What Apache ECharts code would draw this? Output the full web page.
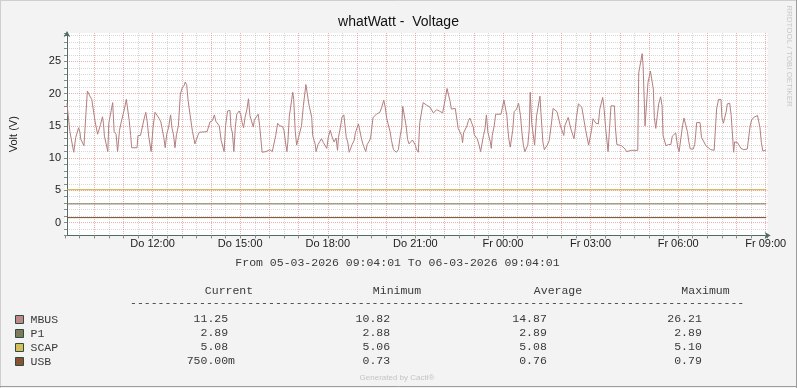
<!DOCTYPE html>
<html>
<head>
<meta charset="utf-8">
<script src="https://cdn.jsdelivr.net/npm/echarts@6/dist/echarts.min.js"></script>
<style>html,body{margin:0;padding:0;background:#f3f3f3;}#c{width:797px;height:388px;}</style>
</head>
<body>
<div id="c"></div>
<script>
// ---- data (minutes after Do 09:00) ----
const mbusTime = [4,7,10,14,18,22,26,28,31,32,36,39,43,46,49,52,55,59,62,65,67,71,73,77,79,81,84,88,90,94,98,101,105,108,112,115,118,122,126,129,132,135,137,148,150,155,159,162,166,169,172,177,181,185,189,193,197,200,203,206,209,213,217,220,223,226,229,233,237,241,245,247,250,253,257,259,262,265,267,270,273,276,292,294,298,303,307,310,313,317,319,321,324,327,330,334,339,341,344,347,350,353,358,361,364,367,370,374,377,380,384,387,389,393,397,400,402,405,413,417,421,426,430,433,437,441,447,450,453,456,458,461,465,468,470,473,476,480,483,486,490,493,495,499,501,504,507,509,512,514,516,519,520,524,527,531,534,538,541,545,547,550,553,557,560,562,566,569,573,575,578,581,584,587,590,594,597,600,603,606,609,612,615,618,621,625,628,631,633,637,640,644,647,651,655,658,661,664,668,671,675,678,681,685,689,692,694,698,701,704,707,710,714,718,720,722,726,728,729,733,736,739,743,746,750,752,757,761,764,769,772,776,779,782,785,788,791,794,798,802,806,808,811,815,817,819,822,826,829,832,836,839,841,844,847,851,854,858,860,863,866,869,871,874,876,878,882,885,896,899,902,906,908,910,912,915,918,920,923,928,932,934,936,939,942,945,948,951,954,956,958,959,963,965,967,969,973,976,978,980,982,985,988,991,995,997,1000,1003,1007,1011,1015,1018,1022,1025,1027,1031,1034,1037,1040,1043,1046,1049,1051,1055,1058,1062,1066,1070,1073,1076,1079,1082,1085,1088,1091,1096,1099,1103,1105,1108,1111,1114,1116,1119,1122,1125,1129,1131,1134,1138,1144,1147,1151,1154,1157,1164,1171,1177,1179,1183,1186,1188,1192,1196,1198,1201,1203,1207,1209,1211,1214,1218,1220,1224,1227,1229,1233,1235,1240,1245,1248,1252,1255,1259,1262,1265,1269,1272,1276,1279,1282,1285,1288,1291,1294,1296,1298,1305,1308,1311,1313,1317,1320,1327,1334,1337,1339,1343,1348,1350,1353,1356,1359,1361,1366,1369,1374,1375,1376,1379,1382,1386,1389,1392,1395,1402,1408,1411,1415,1418,1423,1427,1428,1431,1434,1436,1440];
const mbusVolt = [18.5,18.4,14.1,14.0,10.9,13.2,13.4,14.7,13.9,13.0,12.9,11.9,16.9,20.4,20.5,19.5,19.1,18.9,15.6,15.4,13.7,13.7,15.2,16.4,15.4,13.4,13.2,11.0,15.4,15.6,18.6,14.1,13.7,11.0,14.3,15.4,15.5,17.6,19.1,19.0,15.8,13.5,11.6,11.6,13.5,13.5,14.8,15.9,17.1,15.6,13.4,11.0,14.8,17.1,17.0,16.2,15.6,15.5,13.2,11.6,13.7,14.8,16.7,14.6,13.6,11.6,13.6,15.0,19.9,20.9,21.3,21.8,21.4,18.9,16.7,16.5,14.1,13.9,12.2,12.2,13.5,14.0,14.1,14.3,15.6,15.8,16.7,15.7,15.5,15.0,13.9,12.7,12.6,11.0,15.0,17.3,17.4,14.8,13.9,11.0,14.8,16.8,17.3,16.8,15.5,14.7,16.3,17.6,19.2,16.6,16.3,14.8,15.9,16.2,16.8,15.0,13.4,10.9,11.0,11.3,11.3,11.0,10.9,13.5,15.4,15.0,14.9,14.3,12.5,11.0,12.5,16.5,16.6,20.2,19.1,14.3,12.0,13.2,13.5,15.0,18.2,18.1,21.4,21.4,18.4,18.1,16.3,13.5,12.7,12.2,11.0,11.0,12.1,12.2,13.0,12.4,12.5,11.5,13.2,14.3,14.3,13.0,12.5,13.1,11.2,13.2,14.8,16.3,16.7,16.8,13.2,12.5,10.9,11.0,12.1,12.7,14.0,14.3,15.3,15.3,13.1,12.2,12.2,11.0,12.1,12.6,13.1,15.0,16.3,16.6,16.8,16.9,17.1,17.9,19.0,17.9,16.2,15.3,14.1,12.7,11.3,11.0,10.9,11.3,13.5,14.8,18.0,18.0,15.0,12.9,12.2,12.5,12.8,12.7,12.0,11.4,10.9,11.0,15.5,15.6,18.6,18.4,18.2,18.1,17.9,17.6,17.0,17.3,17.5,17.3,17.1,17.0,17.2,19.4,20.8,20.8,18.9,17.6,17.7,17.7,17.9,14.6,14.6,13.5,12.4,13.9,13.9,15.0,15.8,16.2,16.2,14.8,13.6,13.5,13.0,12.0,11.0,11.0,13.5,14.5,16.7,14.0,13.7,12.5,11.5,13.5,15.0,16.8,16.8,17.9,19.0,19.0,16.6,14.5,13.0,11.7,11.7,14.3,17.2,17.6,18.5,18.7,16.6,13.9,12.0,11.0,11.0,12.0,14.5,20.2,19.9,15.5,15.4,12.0,12.1,16.5,16.6,19.6,17.1,14.8,12.5,11.3,11.3,12.0,12.7,12.9,15.6,17.7,17.6,17.2,17.1,15.0,14.9,13.5,15.0,15.0,16.3,16.1,14.4,14.3,13.0,14.8,16.3,18.4,18.4,17.9,17.9,14.3,14.1,12.0,12.0,14.3,16.1,15.8,15.4,15.3,17.6,17.7,19.4,17.5,14.6,14.3,11.0,14.6,18.1,18.0,18.1,14.8,12.1,12.0,11.9,11.9,11.4,11.0,11.0,11.2,11.2,11.2,23.2,23.3,26.2,24.3,15.0,14.9,21.7,21.8,23.5,23.5,20.7,16.3,14.6,14.6,18.4,19.5,18.1,13.5,13.4,11.9,12.1,12.1,13.4,13.5,13.9,11.7,11.0,10.9,15.0,16.2,16.2,14.1,12.5,11.4,11.3,11.4,12.1,13.6,15.5,15.5,13.2,13.1,12.5,11.9,11.7,11.3,11.2,11.3,17.6,19.1,19.1,16.3,15.4,15.4,17.3,18.4,18.5,16.6,10.9,10.8,12.5,12.4,12.4,12.7,11.5,11.4,11.3,11.4,15.0,15.9,16.3,16.4,16.6,16.7,14.8,12.4,11.1,11.1,11.2];
const flatTime = [4, 1441];
const p1Volt = [2.89, 2.89];
const scapVolt = [5.08, 5.08];
const usbVolt = [0.76, 0.76];

const seriesNames = ['MBUS', 'P1', 'SCAP', 'USB'];
const currentVals = ['11.25 ', '2.89 ', '5.08 ', '750.00m'];
const minimumVals = ['10.82 ', '2.88 ', '5.06 ', '0.73 '];
const averageVals = ['14.87 ', '2.89 ', '5.08 ', '0.76 '];
const maximumVals = ['26.21 ', '2.89 ', '5.10 ', '0.79 '];
const tableHeaders = ['Current', 'Minimum', 'Average', 'Maximum'];

const xLabelMinutes = [180, 360, 540, 720, 900, 1080, 1260, 1440];
const xLabelTexts = ['Do 12:00', 'Do 15:00', 'Do 18:00', 'Do 21:00', 'Fr 00:00', 'Fr 03:00', 'Fr 06:00', 'Fr 09:00'];
const yLabelValues = [0, 5, 10, 15, 20, 25];

const titleText = 'whatWatt -  Voltage';
const rangeText = 'From 05-03-2026 09:04:01 To 06-03-2026 09:04:01';

// ---- styles ----
const lineColors = ['#b47e7e', '#77704e', '#caa53a', '#7c4a2a'];
const legendColors = ['#c08888', '#807a5c', '#d4bf5c', '#8b5232'];
const MINOR = 'rgba(160,160,160,0.42)';
const MAJOR = 'rgba(230,120,120,0.6)';
const NONE = 'rgba(0,0,0,0)';
const AXIS = '#4d6c62';
const SANS = '"Liberation Sans", Arial, sans-serif';
const MONO = '"Liberation Mono", "DejaVu Sans Mono", monospace';

const xSplit = [];
for (let m = 0; m <= 1440; m += 30) xSplit.push(m === 0 ? NONE : (m % 60 === 0 ? MAJOR : MINOR));
xSplit.push(NONE);
const ySplit = [];
for (let v = -2; v <= 29; v++) ySplit.push(v % 5 === 0 ? MAJOR : MINOR);
ySplit.push(NONE);

const chart = echarts.init(document.getElementById('c'), null, {renderer: 'canvas'});

const tableFont = '11.5px ' + MONO;
const textFill = '#3a3a3a';
const colRight = [235, 397, 553.7, 708.7];
const colHeadCenter = [229, 397, 558, 705.5];
const rowY0 = 318.7, rowStep = 14;
const graphics = [];
// borders
graphics.push({type:'line', shape:{x1:0,y1:0.5,x2:797,y2:0.5}, style:{stroke:'#cfcfcf', lineWidth:1}, silent:true});
graphics.push({type:'line', shape:{x1:0.5,y1:0,x2:0.5,y2:388}, style:{stroke:'#cfcfcf', lineWidth:1}, silent:true});
graphics.push({type:'line', shape:{x1:0,y1:386.5,x2:797,y2:386.5}, style:{stroke:'#9c9c9c', lineWidth:1}, silent:true});
graphics.push({type:'line', shape:{x1:796.5,y1:0,x2:796.5,y2:388}, style:{stroke:'#9c9c9c', lineWidth:1}, silent:true});
// range line
graphics.push({type:'text', x:397.5, y:263.3, style:{text:rangeText, align:'center', verticalAlign:'middle', font:tableFont, fill:textFill}});
// headers
tableHeaders.forEach((h, j) => graphics.push({type:'text', x:colHeadCenter[j], y:290.7, style:{text:h, align:'center', verticalAlign:'middle', font:tableFont, fill:textFill}}));
graphics.push({type:'text', x:130, y:302.5, style:{text:'-'.repeat(89), align:'left', verticalAlign:'middle', font:tableFont, fill:textFill}});
const cols = [currentVals, minimumVals, averageVals, maximumVals];
seriesNames.forEach((n, i) => {
  cols.forEach((col, j) => graphics.push({type:'text', x:colRight[j], y:rowY0 + i*rowStep, style:{text:col[i], align:'right', verticalAlign:'middle', font:tableFont, fill:textFill}}));
});
graphics.push({type:'text', x:397, y:377.5, style:{text:'Generated by Cacti\u00AE', align:'center', verticalAlign:'middle', font:'8px ' + SANS, fill:'#c4c4c4'}});
graphics.push({type:'text', x:789, y:56, rotation:-Math.PI/2, style:{text:'RRDTOOL / TOBI OETIKER', align:'center', verticalAlign:'middle', font:'8px ' + SANS, fill:'#c8c8c8'}});

const option = {
  backgroundColor: '#f3f3f3',
  animation: false,
  title: {
    text: titleText, left: 'center', top: 15, padding: 0,
    textStyle: {fontFamily: SANS, fontSize: 14, fontWeight: 'normal', color: '#111'}
  },
  legend: {
    orient: 'vertical', left: 15, top: 312.5, padding: 0,
    icon: 'rect', itemWidth: 8, itemHeight: 8, itemGap: 0,
    selectedMode: false,
    textStyle: {fontFamily: MONO, fontSize: 11.5, color: textFill, lineHeight: 14, padding: [0,0,0,2]},
    data: seriesNames.map((n, i) => ({name: n, itemStyle: {color: legendColors[i], borderColor: '#2c4d43', borderWidth: 1}}))
  },
  grid: {left: 64.04, right: 29.3, top: 33, bottom: 152.6, show: true, backgroundColor: '#ffffff', borderWidth: 0, containLabel: false},
  xAxis: {
    type: 'value', min: 0, max: 1444.02, interval: 30,
    axisLine: {show: true, onZero: false, lineStyle: {color: AXIS, width: 1}, symbol: ['none', 'arrow'], symbolSize: [5, 6], symbolOffset: [0, 3]},
    axisTick: {show: true, length: 3, lineStyle: {color: '#8a8a8a'}},
    axisLabel: {
      margin: 3, fontFamily: SANS, fontSize: 11, color: '#222',
      formatter: v => { const k = xLabelMinutes.indexOf(Math.round(v)); return k >= 0 && Math.abs(v - Math.round(v)) < 1e-6 ? xLabelTexts[k] : ''; }
    },
    splitLine: {show: true, lineStyle: {color: xSplit, type: [1, 1], width: 1}}
  },
  yAxis: {
    type: 'value', min: -2, max: 29.4, interval: 1, offset: -2,
    name: 'Volt (V)', nameLocation: 'middle', nameGap: 48, nameRotate: 90,
    nameTextStyle: {fontFamily: SANS, fontSize: 11, color: '#222'},
    axisLine: {show: true, onZero: false, lineStyle: {color: AXIS, width: 1}, symbol: ['none', 'arrow'], symbolSize: [5, 6], symbolOffset: [0, 2]},
    axisTick: {show: true, length: 3, lineStyle: {color: '#8a8a8a'}},
    axisLabel: {
      margin: 6, fontFamily: SANS, fontSize: 11, color: '#222',
      formatter: v => (yLabelValues.indexOf(v) >= 0 ? String(v) : '')
    },
    splitLine: {show: true, lineStyle: {color: ySplit, type: [1, 1], width: 1}}
  },
  series: [
    {name: 'MBUS', type: 'line', data: mbusTime.map((t, i) => [t, mbusVolt[i]]), symbol: 'none', showSymbol: false, silent: true, lineStyle: {color: lineColors[0], width: 1}, itemStyle: {color: legendColors[0]}},
    {name: 'P1', type: 'line', data: flatTime.map((t, i) => [t, p1Volt[i]]), symbol: 'none', showSymbol: false, silent: true, lineStyle: {color: lineColors[1], width: 1}, itemStyle: {color: legendColors[1]}},
    {name: 'SCAP', type: 'line', data: flatTime.map((t, i) => [t, scapVolt[i]]), symbol: 'none', showSymbol: false, silent: true, lineStyle: {color: lineColors[2], width: 1}, itemStyle: {color: legendColors[2]}},
    {name: 'USB', type: 'line', data: flatTime.map((t, i) => [t, usbVolt[i]]), symbol: 'none', showSymbol: false, silent: true, lineStyle: {color: lineColors[3], width: 1}, itemStyle: {color: legendColors[3]}}
  ],
  graphic: graphics
};
chart.setOption(option);
</script>
</body>
</html>
